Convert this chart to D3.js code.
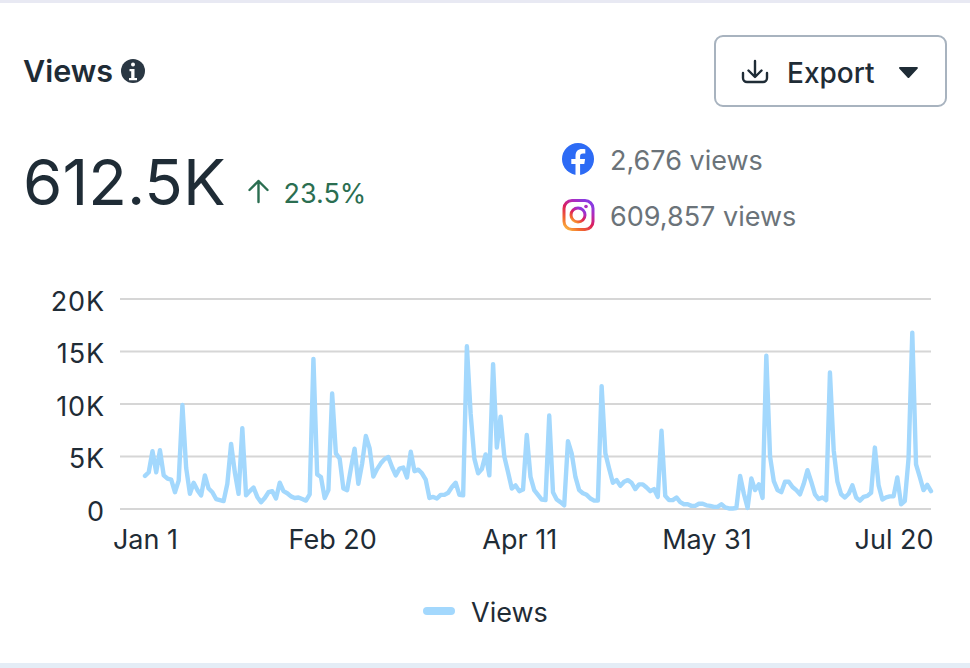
<!DOCTYPE html>
<html><head><meta charset="utf-8">
<script src="https://cdn.jsdelivr.net/npm/d3@7"></script>
<style>
html,body{margin:0;padding:0;background:#fff;overflow:hidden}
svg{display:block;font-family:Inter,"Noto Sans",sans-serif}
.axis path.domain{display:none}
.axis line{display:none}
.axis text{font-family:Inter,"Noto Sans",sans-serif;font-size:27px;fill:#1f2c36}
</style></head><body>
<svg id="c" width="970" height="668"></svg>
<script>
const title = "Views";
const total = "612.5K";
const change = "23.5%";
const exportLabel = "Export";
const facebookViews = "2,676 views";
const instagramViews = "609,857 views";
const seriesName = "Views";
const startDate = new Date(2023, 0, 1);
const yTickValues = [0, 5, 10, 15, 20];
const xTickOffsets = [0, 50, 100, 150, 200];
// thousands of views per day
const views = [
3.15,3.5,5.5,3.5,5.6,3.2,2.9,2.8,1.6,2.7,9.9,3.9,1.45,2.5,1.8,1.3,3.2,1.95,1.6,.95,
.85,.75,2.4,6.2,3.5,1.45,7.7,1.3,1.7,2.05,1.15,.65,1.05,1.6,1.7,1,2.5,1.7,1.5,1.2,
1.05,1.1,.95,.8,1.4,14.3,3.3,3.05,1.05,1.8,11,5.3,4.8,1.95,1.8,3.85,5.75,2.4,4.3,6.95,
5.8,3.1,3.8,4.35,4.75,4.95,4,3.2,3.85,3.95,3,5.45,3.6,3.75,3.4,2.8,1.05,1.15,1,1.35,
1.35,1.55,2.1,2.5,1.35,1.3,15.5,9.1,4.8,3.4,3.8,5.2,3.2,13.8,5.85,8.8,5,3.5,1.95,2.25,
1.7,1.85,7.05,3.05,1.8,1.35,.9,.85,8.9,1.6,.9,.65,.35,6.45,5.3,3.05,1.8,1.5,1.35,1,
.8,.8,11.7,5.3,3.85,2.5,2.75,2.2,2.6,2.75,2.5,1.9,2.35,2.35,2.05,1.7,1.9,1.15,7.45,1.25,
.85,.85,1.1,.65,.45,.45,.3,.3,.5,.5,.35,.3,.2,.2,.45,.15,.05,.05,.1,3.15,
1.45,.1,2.9,1.8,2.35,1.05,14.6,5,2.65,1.8,1.6,2.6,2.6,2.1,1.8,1.4,2.4,3.7,2.6,1.4,
.95,1.1,.85,13,5.6,2.6,1.4,1.1,1.45,2.25,1.1,.8,1.15,1.25,1.55,5.85,2.25,.9,1.1,1.2,
1.2,3,.45,.75,4.8,16.8,4.25,3.05,1.8,2.3,1.7];

const dayMs = 864e5;
const dates = views.map((_, i) => new Date(startDate.getTime() + i * dayMs));
const svg = d3.select("#c");

// page bands
svg.append("rect").attr("width",970).attr("height",668).attr("fill","#fff");
svg.append("rect").attr("width",970).attr("height",3).attr("fill","#e8e9f3");
svg.append("rect").attr("y",663).attr("width",970).attr("height",5).attr("fill","#e4edf6");

// scales
const x = d3.scaleTime().domain([dates[0], dates[dates.length-1]]).range([145, 931]);
const y = d3.scaleLinear().domain([0, 20]).range([509, 299]);

// grid
svg.append("g").selectAll("line").data(yTickValues).join("line")
  .attr("x1",120).attr("x2",931)
  .attr("y1",d=>y(d)).attr("y2",d=>y(d))
  .attr("stroke","#d6d6d6").attr("stroke-width",2);

// axes
const yAxis = svg.append("g").attr("class","axis").attr("transform","translate(105,0)")
  .call(d3.axisLeft(y).tickValues(yTickValues).tickSize(0).tickPadding(0).tickFormat(d=>d===0?"0":d+"K"));
yAxis.selectAll("text").attr("dy","0.42em").attr("letter-spacing",0.9);
const xTicks = xTickOffsets.map(o=>dates[o]);
const xAxis = svg.append("g").attr("class","axis").attr("transform","translate(0,524)")
  .call(d3.axisBottom(x).tickValues(xTicks).tickSize(0).tickPadding(0).tickFormat(d3.timeFormat("%b %-d")));
xAxis.selectAll("text").attr("dy","0.92em");

// line
svg.append("path").datum(views)
  .attr("fill","none").attr("stroke","#a3d8fd").attr("stroke-width",4.4)
  .attr("stroke-linejoin","round").attr("stroke-linecap","round")
  .attr("d",d3.line().x((d,i)=>x(dates[i])).y(d=>y(d)));

// header
const dark="#1f2c36";
svg.append("text").attr("x",23).attr("y",82).attr("font-size",30.5).attr("font-weight",600).attr("fill",dark).text(title);
svg.append("circle").attr("cx",133).attr("cy",71).attr("r",12).attr("fill","#2a3743");
svg.append("circle").attr("cx",133).attr("cy",64.5).attr("r",2).attr("fill","#fff");
svg.append("path").attr("d","M129.5 69h5v9h2.5v2.2h-8v-2.2h2.2v-6.8h-1.7z").attr("fill","#fff");

svg.append("text").attr("x",23).attr("y",205).attr("font-size",63.5).attr("font-weight",400).attr("fill",dark).text(total);
svg.append("path").attr("d","M258.5 202V181M249.5 190l9-9 9 9").attr("fill","none").attr("stroke","#2b6e51").attr("stroke-width",2.4).attr("stroke-linecap","round").attr("stroke-linejoin","round");
svg.append("text").attr("x",283.5).attr("y",203).attr("font-size",27).attr("fill","#2b6e51").text(change);

// export button
svg.append("rect").attr("x",715).attr("y",36).attr("width",231).attr("height",70).attr("rx",8)
  .attr("fill","#fff").attr("stroke","#a8b3bf").attr("stroke-width",2);
svg.append("path").attr("d","M743 73v5a4 4 0 0 0 4 4h16a4 4 0 0 0 4-4v-5M755 61v15M748.5 70.5l6.5 6.5 6.5-6.5")
  .attr("fill","none").attr("stroke",dark).attr("stroke-width",2.4).attr("stroke-linecap","round").attr("stroke-linejoin","round");
svg.append("text").attr("x",787).attr("y",83).attr("font-size",28).attr("font-weight",500).attr("fill",dark).text(exportLabel);
svg.append("path").attr("d","M898.5 67h18.5a1 1 0 0 1 .7 1.6l-8.3 8.8a1.300 1.300 0 0 1-1.900 0l-8.300-8.800a1 1 0 0 1 .7-1.600z").attr("fill",dark);

// facebook icon
svg.append("circle").attr("cx",578).attr("cy",159).attr("r",16).attr("fill","#2d6bf5");
svg.append("path").attr("d","M575.5 175v-11h-4.2v-5h4.2v-3c0-4.500 2.500-7 6.500-7 1.300 0 2.500.2 3.300.3v4.300h-2.200c-2.300 0-3 1.200-3 2.900v2.500h5l-.8 5h-4.200v11.300z").attr("fill","#fff");

// instagram icon
const defs = svg.append("defs");
const grad = defs.append("linearGradient").attr("id","ig").attr("x1","0").attr("y1","1").attr("x2","0.7").attr("y2","0");
[["0%","#fdc444"],["25%","#f26a2e"],["55%","#dc1f5a"],["80%","#b32ab8"],["100%","#8a3ae0"]]
  .forEach(([o,c])=>grad.append("stop").attr("offset",o).attr("stop-color",c));
svg.append("rect").attr("x",564).attr("y",200.5).attr("width",29).attr("height",29).attr("rx",8)
  .attr("fill","none").attr("stroke","url(#ig)").attr("stroke-width",3);
svg.append("circle").attr("cx",578).attr("cy",215).attr("r",7).attr("fill","none").attr("stroke","url(#ig)").attr("stroke-width",3);
svg.append("circle").attr("cx",586).attr("cy",206.5).attr("r",1.8).attr("fill","#a92fc0");

svg.append("text").attr("x",610).attr("y",170).attr("font-size",27).attr("fill","#6b7379").text(facebookViews);
svg.append("text").attr("x",610).attr("y",226).attr("font-size",27).attr("fill","#6b7379").text(instagramViews);

// legend
svg.append("rect").attr("x",423).attr("y",607).attr("width",32).attr("height",8).attr("rx",4).attr("fill","#a3d8fd");
svg.append("text").attr("x",471).attr("y",622).attr("font-size",27).attr("fill",dark).text(seriesName);
</script></body></html>
